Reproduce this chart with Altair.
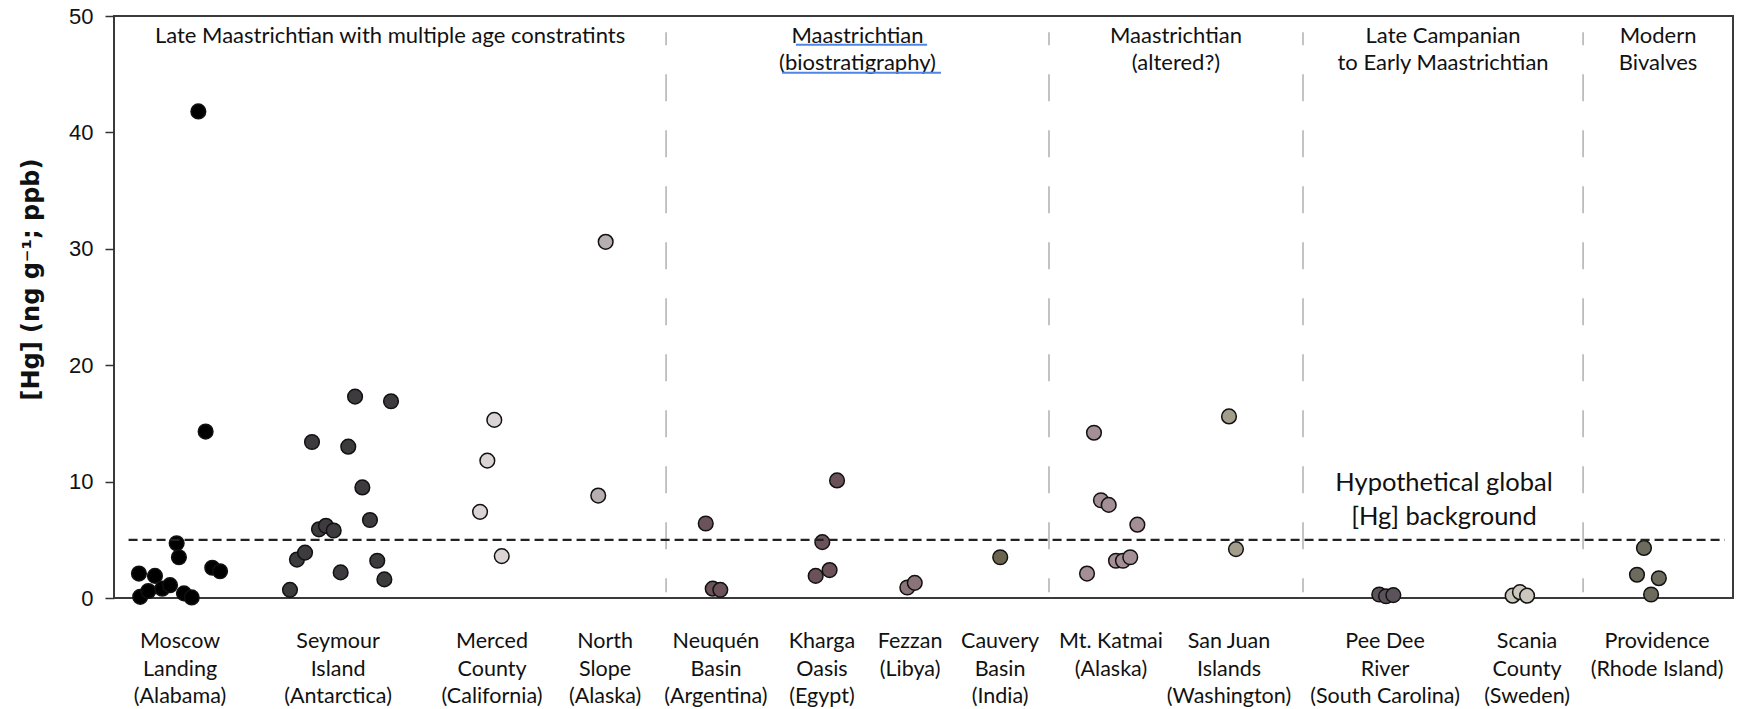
import altair as alt
import pandas as pd

# Sampling localities, left to right, with their x positions (0-100 axis units)
site_names = [
    "Moscow Landing", "Seymour Island", "Merced County", "North Slope",
    "Neuquén Basin", "Kharga Oasis", "Fezzan", "Cauvery Basin",
    "Mt. Katmai", "San Juan Islands", "Pee Dee River", "Scania County",
    "Providence",
]
site_labels = [
    "Moscow\nLanding\n(Alabama)", "Seymour\nIsland\n(Antarctica)",
    "Merced\nCounty\n(California)", "North\nSlope\n(Alaska)",
    "Neuquén\nBasin\n(Argentina)", "Kharga\nOasis\n(Egypt)",
    "Fezzan\n(Libya)", "Cauvery\nBasin\n(India)", "Mt. Katmai\n(Alaska)",
    "San Juan\nIslands\n(Washington)", "Pee Dee\nRiver\n(South Carolina)",
    "Scania\nCounty\n(Sweden)", "Providence\n(Rhode Island)",
]
site_pos = [4.08, 13.84, 23.35, 30.33, 37.18, 43.73, 49.17, 54.73,
            61.58, 68.87, 78.51, 87.28, 95.31]
site_colors = ["#000000", "#3d3b3e", "#dad4d4", "#b7aeaf", "#6b5359",
               "#6b5258", "#8b7479", "#6b6550", "#a38f95", "#a39d8b",
               "#5b525a", "#cbc7bd", "#6d6a5e"]

# Hg concentrations (ng/g) per locality and the horizontal spread of each sample
hg_values = [
    [2.1, 0.1, 0.6, 1.9, 0.8, 1.1, 4.7, 3.5, 0.4, 0.05, 41.8, 14.3, 2.6, 2.3],
    [0.7, 3.3, 3.9, 13.4, 5.9, 6.2, 5.8, 2.2, 13.0, 17.3, 9.5, 6.7, 3.2, 1.6, 16.9],
    [7.4, 11.8, 15.3, 3.6],
    [8.8, 30.6],
    [6.4, 0.8, 0.7],
    [1.9, 4.8, 2.4, 10.1],
    [0.9, 1.3],
    [3.5],
    [2.1, 14.2, 8.4, 8.0, 3.2, 3.2, 3.5, 6.3],
    [15.6, 4.2],
    [0.3, 0.15, 0.25],
    [0.2, 0.5, 0.2],
    [2.0, 4.3, 0.3, 1.7],
]
jitter = [
    [-2.54, -2.46, -1.96, -1.55, -1.10, -0.62, -0.21, -0.07, 0.24, 0.72, 1.13, 1.58, 1.99, 2.47],
    [-2.97, -2.54, -2.04, -1.61, -1.18, -0.75, -0.27, 0.16, 0.63, 1.05, 1.50, 1.97, 2.42, 2.86, 3.27],
    [-0.74, -0.29, 0.14, 0.60],
    [-0.42, 0.04],
    [-0.63, -0.20, 0.27],
    [-0.39, 0.02, 0.47, 0.93],
    [-0.17, 0.29],
    [0.01],
    [-1.48, -1.05, -0.62, -0.14, 0.31, 0.74, 1.19, 1.63],
    [0.0, 0.43],
    [-0.36, 0.06, 0.51],
    [-0.89, -0.44, 0.0],
    [-1.24, -0.81, -0.37, 0.11],
]

# Age groupings separated by dashed lines
group_bounds = [0, 34.10, 57.75, 73.44, 90.74, 100]
group_titles = [
    "Late Maastrichtian with multiple age constratints",
    "Maastrichtian\n(biostratigraphy)",
    "Maastrichtian\n(altered?)",
    "Late Campanian\nto Early Maastrichtian",
    "Modern\nBivalves",
]

background_hg = 5.0

W, H = 1619, 582
LABEL_FONT = "Lato"
Y_TITLE = "[Hg] (ng g⁻¹; ppb)"

rows = []
idx = 0
for name, pos, vals, offs in zip(site_names, site_pos, hg_values, jitter):
    for v, o in zip(vals, offs):
        rows.append({"site": name, "x": pos + o, "hg": v, "idx": idx})
        idx += 1
points_df = pd.DataFrame(rows)

x_scale = alt.Scale(domain=[0, 100], nice=False, zero=False)
y_scale = alt.Scale(domain=[0, 50], nice=False)

y_axis = alt.Axis(
    values=[0, 10, 20, 30, 40, 50], grid=False, domain=False,
    labelFont="Liberation Sans", labelFontSize=22, labelColor="#111",
    labelPadding=12, tickSize=9, tickColor="#333", tickWidth=1.5,
    title=Y_TITLE, titleFont="DejaVu Sans",
    titleFontSize=24, titleFontWeight="bold", titleColor="#111",
    titleAngle=270, titleX=-83, titleY=263, titleAlign="center",
    titleBaseline="middle",
)


def ypos(field):
    return alt.Y(field, scale=y_scale, axis=y_axis, title=Y_TITLE)


# dashed separators between age groups
sep_df = pd.DataFrame({"x": group_bounds[1:-1], "top": 48.6, "bottom": 0.5})
separators = alt.Chart(sep_df).mark_rule(
    color="#b5b5b5", strokeWidth=1.6, strokeDash=[27, 29], strokeDashOffset=14
).encode(
    x=alt.X("x:Q", scale=x_scale, axis=None),
    y=ypos("top:Q"),
    y2="bottom:Q",
)

# hypothetical global background level
bg_df = pd.DataFrame({"x0": [0.9], "x1": [99.5], "hg": [background_hg]})
background = alt.Chart(bg_df).mark_rule(
    color="#222222", strokeWidth=2.3, strokeDash=[9, 5]
).encode(
    x=alt.X("x0:Q", scale=x_scale, axis=None),
    x2="x1:Q",
    y=ypos("hg:Q"),
)

points = alt.Chart(points_df).mark_circle(
    size=215, opacity=1, stroke="#111", strokeWidth=1.5
).encode(
    x=alt.X("x:Q", scale=x_scale, axis=None),
    y=ypos("hg:Q"),
    fill=alt.Fill("site:N", scale=alt.Scale(domain=site_names, range=site_colors), legend=None),
    order=alt.Order("idx:Q"),
)

# locality names below the plot
lab_df = pd.DataFrame({"x": site_pos, "label": site_labels, "y": -2.85})
site_text = alt.Chart(lab_df).mark_text(
    font=LABEL_FONT, fontSize=21.5, lineHeight=27.5, lineBreak="\n",
    align="center", baseline="top", color="#111"
).encode(
    x=alt.X("x:Q", scale=x_scale, axis=None),
    y=ypos("y:Q"),
    text="label:N",
)

# age-group headings
centers = [(a + b) / 2 for a, b in zip(group_bounds[:-1], group_bounds[1:])]
head_df = pd.DataFrame({"x": centers, "label": group_titles, "y": 49.1})
heads = alt.Chart(head_df).mark_text(
    font=LABEL_FONT, fontSize=22, lineHeight=27, lineBreak="\n",
    align="center", baseline="top", color="#111"
).encode(
    x=alt.X("x:Q", scale=x_scale, axis=None),
    y=ypos("y:Q"),
    text="label:N",
)

# blue underlines beneath the biostratigraphy heading
ul_df = pd.DataFrame({"x0": [42.12, 41.26], "x1": [50.22, 51.08], "y": [47.53, 45.13]})
underline = alt.Chart(ul_df).mark_rule(color="#4f86e6", strokeWidth=2).encode(
    x=alt.X("x0:Q", scale=x_scale, axis=None),
    x2="x1:Q",
    y=ypos("y:Q"),
)

note_df = pd.DataFrame({"x": [82.15], "y": [10.95], "label": ["Hypothetical global\n[Hg] background"]})
note = alt.Chart(note_df).mark_text(
    font=LABEL_FONT, fontSize=25.5, lineHeight=34, lineBreak="\n",
    align="center", baseline="top", color="#111"
).encode(
    x=alt.X("x:Q", scale=x_scale, axis=None),
    y=ypos("y:Q"),
    text="label:N",
)

chart = alt.layer(
    points, separators, background, site_text, heads, underline, note
).properties(
    width=W, height=H,
    autosize=alt.AutoSizeParams(type="none"),
    padding={"left": 114, "top": 16, "right": 8, "bottom": 111},
    background="white",
).configure_view(
    stroke="#3a3a3a", strokeWidth=2
)

chart.save("out.html", embed_options={"renderer": "svg", "actions": False})
